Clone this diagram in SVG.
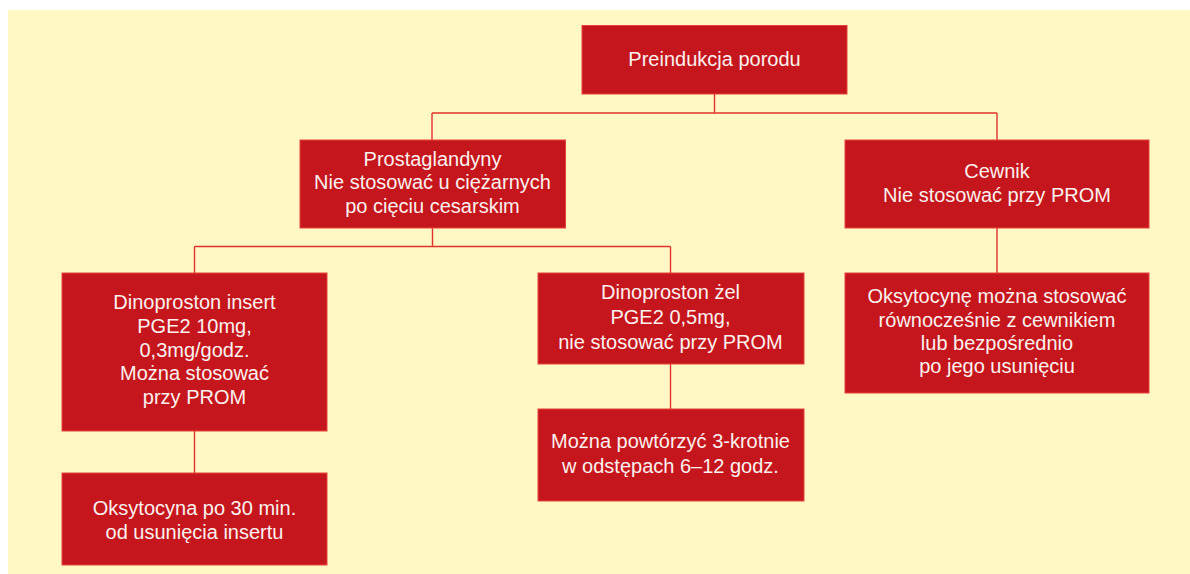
<svg xmlns="http://www.w3.org/2000/svg" width="1190" height="574" viewBox="0 0 1190 574">
  <style>
    .box { fill: #C4161C; stroke: #E8423C; stroke-width: 1; }
    .lbl { font-family: "Liberation Sans", Arial, sans-serif; font-size: 20px; fill: #FCF0EE; text-anchor: middle; }
    .conn { fill: none; stroke: #E2322E; stroke-width: 1.4; }
  </style>
  <rect x="0" y="0" width="1190" height="574" fill="#FFFFFF"/>
  <rect x="8" y="10" width="1182" height="564" fill="#FFF8C4"/>

  <g id="connectors">
    <path class="conn" d="M714.5 94 V113 M432 113 H997 M432 113 V140 M997 113 V140"/>
    <path class="conn" d="M432.5 228 V246.5 M194.5 246.5 H670.5 M194.5 246.5 V273 M670.5 246.5 V273"/>
    <path class="conn" d="M997 228 V273"/>
    <path class="conn" d="M194.5 431 V473"/>
    <path class="conn" d="M670.5 364 V409"/>
  </g>

  <g id="preindukcja">
    <rect class="box" x="582" y="25.5" width="265" height="68.5"/>
    <text class="lbl" x="714.5" y="66">Preindukcja porodu</text>
  </g>

  <g id="prostaglandyny">
    <rect class="box" x="300" y="140" width="265.5" height="88"/>
    <text class="lbl" x="432.5" y="165.5">Prostaglandyny</text>
    <text class="lbl" x="432.5" y="189">Nie stosować u ciężarnych</text>
    <text class="lbl" x="432.5" y="212.5">po cięciu cesarskim</text>
  </g>

  <g id="cewnik">
    <rect class="box" x="845" y="140" width="304" height="88"/>
    <text class="lbl" x="997" y="178">Cewnik</text>
    <text class="lbl" x="997" y="201.5">Nie stosować przy PROM</text>
  </g>

  <g id="oksytocyne">
    <rect class="box" x="845" y="273" width="304" height="120"/>
    <text class="lbl" x="997" y="303.3">Oksytocynę można stosować</text>
    <text class="lbl" x="997" y="326.7">równocześnie z cewnikiem</text>
    <text class="lbl" x="997" y="350">lub bezpośrednio</text>
    <text class="lbl" x="997" y="373.3">po jego usunięciu</text>
  </g>

  <g id="dinoproston-insert">
    <rect class="box" x="62" y="273" width="265" height="158"/>
    <text class="lbl" x="194.5" y="309.3">Dinoproston insert</text>
    <text class="lbl" x="194.5" y="333">PGE2 10mg,</text>
    <text class="lbl" x="194.5" y="356.7">0,3mg/godz.</text>
    <text class="lbl" x="194.5" y="380.4">Można stosować</text>
    <text class="lbl" x="194.5" y="404.2">przy PROM</text>
  </g>

  <g id="oksytocyna-insert">
    <rect class="box" x="62" y="473" width="265" height="92"/>
    <text class="lbl" x="194.5" y="514.7">Oksytocyna po 30 min.</text>
    <text class="lbl" x="194.5" y="539.3">od usunięcia insertu</text>
  </g>

  <g id="dinoproston-zel">
    <rect class="box" x="538" y="273" width="266" height="91"/>
    <text class="lbl" x="670.5" y="299">Dinoproston żel</text>
    <text class="lbl" x="670.5" y="323.5">PGE2 0,5mg,</text>
    <text class="lbl" x="670.5" y="349">nie stosować przy PROM</text>
  </g>

  <g id="powtorzyc">
    <rect class="box" x="538" y="409" width="266" height="92"/>
    <text class="lbl" x="670.5" y="447.7">Można powtórzyć 3-krotnie</text>
    <text class="lbl" x="670.5" y="472.7">w odstępach 6–12 godz.</text>
  </g>
</svg>
